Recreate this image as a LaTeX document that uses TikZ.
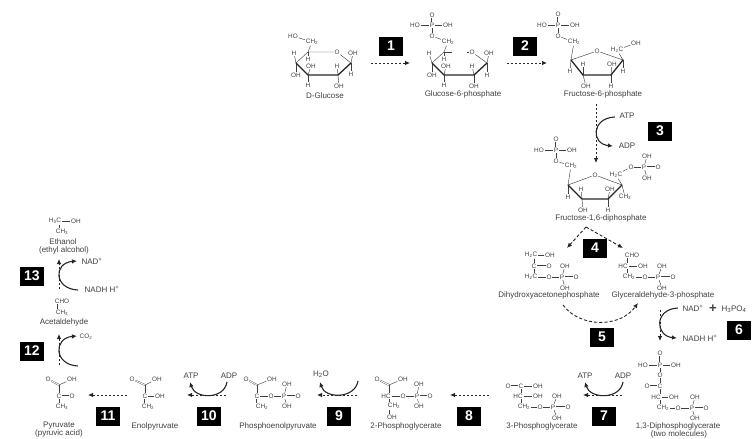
\documentclass[tikz,border=0pt]{standalone}
\usepackage{fontspec}
\setmainfont{Liberation Sans}
\usetikzlibrary{arrows.meta}
\definecolor{inkgray}{gray}{0.25}
\tikzset{
  atom/.style={text=inkgray,font=\fontsize{6.4pt}{7pt}\selectfont,inner sep=0.7pt},
  caption/.style={text=inkgray,font=\fontsize{8pt}{9pt}\selectfont,inner sep=0pt},
  cofac/.style={text=inkgray,font=\fontsize{8pt}{9pt}\selectfont,inner sep=0pt},
  stepbox/.style={fill=black,text=white,font=\fontsize{14pt}{14pt}\selectfont\bfseries,minimum width=24pt,minimum height=19pt,inner sep=0pt},
  bond/.style={inkgray,line width=0.45pt},
  dbond/.style={inkgray,line width=0.35pt,double,double distance=0.9pt},
  wedge/.style={black!85,line width=1.3pt,line cap=round},
  flow/.style={black!85,line width=0.8pt,dash pattern=on 2pt off 2pt,-{Latex[length=5pt,width=4.5pt]}},
  longflow/.style={black!85,line width=0.9pt,dash pattern=on 3.2pt off 2pt,-{Latex[length=5pt,width=4.5pt]}},
  turn/.style={black!85,line width=1.1pt,-{Latex[length=5pt,width=4.5pt]}}
}
\begin{document}
\begin{tikzpicture}[x=1pt,y=-1pt]
\useasboundingbox (0,0) rectangle (753,439);

% D-Glucose
\coordinate (ga1) at (351,63); \coordinate (ga2) at (338,75); \coordinate (ga3) at (308,75);
\coordinate (ga4) at (296,63); \coordinate (ga5) at (308,52);
\node[atom] (gaO) at (337,52) {O};
\node[atom] (gaHO) at (293,36) {HO};
\node[atom] (gaCH) at (312,42) {CH\textsubscript{2}};
\node[atom] (gaa) at (294,53) {H};
\node[atom] (gab) at (308,59) {H};
\node[atom] (gac) at (353,53) {OH};
\node[atom] (gad) at (351,74) {H};
\node[atom] (gae) at (311,66) {OH};
\node[atom] (gaf) at (337,66) {H};
\node[atom] (gag) at (296,75) {OH};
\node[atom] (gah) at (308,85) {H};
\node[atom] (gai) at (339,86) {OH};
\node[caption] (gacap) at (325,96) {D-Glucose};
\draw[bond] (gaHO) -- (gaCH);
\draw[bond] (gaCH) -- (ga5) -- (gaO) -- (ga1);
\draw[bond] (ga5) -- (ga4);
\draw[bond] (ga5) -- (gab);
\draw[bond] (ga4) -- (gaa); \draw[bond] (ga4) -- (gag);
\draw[bond] (ga3) -- (gae); \draw[bond] (ga3) -- (gah);
\draw[bond] (ga2) -- (gaf); \draw[bond] (ga2) -- (gai);
\draw[bond] (ga1) -- (gac); \draw[bond] (ga1) -- (gad);
\draw[wedge] (ga4) -- (ga3) -- (ga2) -- (ga1);

% Glucose-6-phosphate
\coordinate (gp1) at (487,63); \coordinate (gp2) at (474,75); \coordinate (gp3) at (444,75);
\coordinate (gp4) at (432,63); \coordinate (gp5) at (444,52); \coordinate (gpgap) at (452,52);
\coordinate (gpgab) at (467,52);
\node[atom] (gpO) at (472,52) {O};
\node[atom] (gpP) at (432,25) {P};
\node[atom] (gpPO) at (432,15) {O};
\node[atom] (gpHO) at (415,25) {HO};
\node[atom] (gpOH) at (448,25) {OH};
\node[atom] (gpOl) at (432,36) {O};
\node[atom] (gpCH) at (448,42) {CH\textsubscript{2}};
\node[atom] (gpa) at (429,53) {H};
\node[atom] (gpb) at (444,59) {H};
\node[atom] (gpc) at (489,53) {OH};
\node[atom] (gpd) at (487,75) {H};
\node[atom] (gpe) at (446,66) {OH};
\node[atom] (gpf) at (472,66) {H};
\node[atom] (gpg) at (432,75) {OH};
\node[atom] (gph) at (444,85) {H};
\node[atom] (gpi) at (474,86) {OH};
\node[caption] (gpcap) at (463,94) {Glucose-6-phosphate};
\draw[dbond] (gpP) -- (gpPO);
\draw[bond] (gpHO) -- (gpP); \draw[bond] (gpP) -- (gpOH); \draw[bond] (gpP) -- (gpOl);
\draw[bond] (gpOl) -- (gpCH); \draw[bond] (gpCH) -- (gp5);
\draw[bond] (gp5) -- (gpgap); \draw[bond] (gpgab) -- (gpO);
\draw[bond] (gpO) -- (gp1); \draw[bond] (gp5) -- (gp4); \draw[bond] (gp5) -- (gpb);
\draw[bond] (gp4) -- (gpa); \draw[bond] (gp4) -- (gpg);
\draw[bond] (gp3) -- (gpe); \draw[bond] (gp3) -- (gph);
\draw[bond] (gp2) -- (gpf); \draw[bond] (gp2) -- (gpi);
\draw[bond] (gp1) -- (gpc); \draw[bond] (gp1) -- (gpd);
\draw[wedge] (gp4) -- (gp3) -- (gp2) -- (gp1);

% Fructose-6-phosphate
\coordinate (fp1) at (571,60); \coordinate (fp2) at (583,75); \coordinate (fp3) at (611,75); \coordinate (fp4) at (623,60);
\node[atom] (fpO) at (597,51) {O};
\node[atom] (fpP) at (558,25) {P};
\node[atom] (fpPO) at (558,14) {O};
\node[atom] (fpHO) at (542,25) {HO};
\node[atom] (fpOH) at (575,25) {OH};
\node[atom] (fpOl) at (558,36) {O};
\node[atom] (fpCH) at (574,42) {CH\textsubscript{2}};
\node[atom] (fpHC) at (617,50) {H\textsubscript{2}C};
\node[atom] (fpHCo) at (636,43) {OH};
\node[atom] (fpa) at (570,71) {H};
\node[atom] (fpb) at (583,64) {H};
\node[atom] (fpc) at (612,64) {OH};
\node[atom] (fpd) at (623,71) {H};
\node[atom] (fpe) at (586,86) {OH};
\node[atom] (fpf) at (611,86) {H};
\node[caption] (fpcap) at (603,94) {Fructose-6-phosphate};
\draw[dbond] (fpP) -- (fpPO);
\draw[bond] (fpHO) -- (fpP); \draw[bond] (fpP) -- (fpOH); \draw[bond] (fpP) -- (fpOl);
\draw[bond] (fpOl) -- (fpCH); \draw[bond] (fpCH) -- (fp1);
\draw[bond] (fp1) -- (fpO); \draw[bond] (fpO) -- (fp4);
\draw[bond] (fp4) -- (fpHC); \draw[bond] (fpHC) -- (fpHCo);
\draw[bond] (fp1) -- (fpa); \draw[bond] (fp2) -- (fpb); \draw[bond] (fp3) -- (fpc); \draw[bond] (fp4) -- (fpd);
\draw[bond] (fp2) -- (fpe); \draw[bond] (fp3) -- (fpf);
\draw[wedge] (fp1) -- (fp2) -- (fp3) -- (fp4);

% Fructose-1,6-diphosphate
\coordinate (fd1) at (568,185); \coordinate (fd2) at (582,199); \coordinate (fd3) at (608,199); \coordinate (fd4) at (622,185);
\node[atom] (fdO) at (595,175) {O};
\node[atom] (fdP) at (556,150) {P};
\node[atom] (fdPO) at (556,139) {O};
\node[atom] (fdHO) at (539,150) {HO};
\node[atom] (fdOH) at (572,150) {OH};
\node[atom] (fdOl) at (556,161) {O};
\node[atom] (fdCH) at (571,166) {CH\textsubscript{2}};
\node[atom] (fdHC) at (616,175) {H\textsubscript{2}C};
\node[atom] (fdOr) at (631,167) {O};
\node[atom] (fdQ) at (644,167) {P};
\node[atom] (fdQO) at (658,167) {O};
\node[atom] (fdQa) at (647,156) {OH};
\node[atom] (fdQb) at (647,178) {OH};
\node[atom] (fda) at (568,197) {H};
\node[atom] (fdb) at (581,189) {H};
\node[atom] (fdc) at (610,189) {OH};
\node[atom] (fdd) at (625,197) {CH\textsubscript{3}};
\node[atom] (fde) at (583,210) {OH};
\node[atom] (fdf) at (608,210) {H};
\node[caption] (fdcap) at (601,218) {Fructose-1,6-diphosphate};
\draw[dbond] (fdP) -- (fdPO);
\draw[bond] (fdHO) -- (fdP); \draw[bond] (fdP) -- (fdOH); \draw[bond] (fdP) -- (fdOl);
\draw[bond] (fdOl) -- (fdCH); \draw[bond] (fdCH) -- (fd1);
\draw[bond] (fd1) -- (fdO); \draw[bond] (fdO) -- (fd4);
\draw[bond] (fd4) -- (fdHC); \draw[bond] (fdHC) -- (fdOr); \draw[bond] (fdOr) -- (fdQ);
\draw[dbond] (fdQ) -- (fdQO);
\draw[bond] (fdQ) -- (fdQa); \draw[bond] (fdQ) -- (fdQb);
\draw[bond] (fd1) -- (fda); \draw[bond] (fd2) -- (fdb); \draw[bond] (fd3) -- (fdc); \draw[bond] (fd4) -- (fdd);
\draw[bond] (fd2) -- (fde); \draw[bond] (fd3) -- (fdf);
\draw[wedge] (fd1) -- (fd2) -- (fd3) -- (fd4);

% Dihydroxyacetonephosphate
\node[atom] (dhC) at (531,255) {H\textsubscript{2}C};
\node[atom] (dhCo) at (550,255) {OH};
\node[atom] (dhD) at (534,266) {C};
\node[atom] (dhDo) at (549,266) {O};
\node[atom] (dhE) at (531,277) {H\textsubscript{2}C};
\node[atom] (dhEo) at (549,277) {O};
\node[atom] (dhP) at (562,277) {P};
\node[atom] (dhPo) at (576,277) {O};
\node[atom] (dhPa) at (565,266) {OH};
\node[atom] (dhPb) at (565,288) {OH};
\node[caption] (dhcap) at (549,295) {Dihydroxyacetonephosphate};
\draw[bond] (dhC) -- (dhCo); \draw[bond] ([xshift=3pt]dhC.south) -- (dhD); \draw[bond] (dhD) -- ([xshift=3pt]dhE.north);
\draw[dbond] (dhD) -- (dhDo);
\draw[bond] (dhE) -- (dhEo); \draw[bond] (dhEo) -- (dhP);
\draw[dbond] (dhP) -- (dhPo);
\draw[bond] (dhP) -- (dhPa); \draw[bond] (dhP) -- (dhPb);

% Glyceraldehyde-3-phosphate
\node[atom] (glC) at (632,255) {CHO};
\node[atom] (glD) at (623,266) {HC};
\node[atom] (glDo) at (643,266) {OH};
\node[atom] (glE) at (629,277) {CH\textsubscript{2}};
\node[atom] (glEo) at (645,277) {O};
\node[atom] (glP) at (658,277) {P};
\node[atom] (glPo) at (673,277) {O};
\node[atom] (glPa) at (662,266) {OH};
\node[atom] (glPb) at (662,288) {OH};
\node[caption] (glcap) at (663,295) {Glyceraldehyde-3-phosphate};
\draw[bond] ([xshift=-5pt]glC.south) -- ([xshift=4pt]glD.north); \draw[bond] ([xshift=4pt]glD.south) -- ([xshift=-2pt]glE.north);
\draw[bond] (glD) -- (glDo);
\draw[bond] (glE) -- (glEo); \draw[bond] (glEo) -- (glP);
\draw[dbond] (glP) -- (glPo);
\draw[bond] (glP) -- (glPa); \draw[bond] (glP) -- (glPb);

% 1,3-Diphosphoglycerate
\node[atom] (dpQO) at (660,353) {O};
\node[atom] (dpHO) at (643,365) {HO};
\node[atom] (dpQ) at (660,365) {P};
\node[atom] (dpQa) at (676,365) {OH};
\node[atom] (dpOt) at (660,375) {O};
\node[atom] (dpOd) at (647,386) {O};
\node[atom] (dpC) at (660,386) {C};
\node[atom] (dpD) at (656,397) {HC};
\node[atom] (dpDo) at (674,397) {OH};
\node[atom] (dpE) at (663,408) {CH\textsubscript{2}};
\node[atom] (dpEo) at (678,408) {O};
\node[atom] (dpP) at (692,408) {P};
\node[atom] (dpPo) at (706,408) {O};
\node[atom] (dpPa) at (695,397) {OH};
\node[atom] (dpPb) at (695,418) {OH};
\node[caption] (dpcap) at (678,426) {1,3-Diphosphoglycerate};
\node[caption] (dpcapb) at (679,434) {(two molecules)};
\draw[dbond] (dpQ) -- (dpQO);
\draw[bond] (dpHO) -- (dpQ); \draw[bond] (dpQ) -- (dpQa); \draw[bond] (dpQ) -- (dpOt); \draw[bond] (dpOt) -- (dpC);
\draw[dbond] (dpOd) -- (dpC);
\draw[bond] (dpC) -- ([xshift=4pt]dpD.north); \draw[bond] (dpD) -- (dpDo); \draw[bond] ([xshift=4pt]dpD.south) -- ([xshift=-3pt]dpE.north);
\draw[bond] (dpE) -- (dpEo); \draw[bond] (dpEo) -- (dpP);
\draw[dbond] (dpP) -- (dpPo);
\draw[bond] (dpP) -- (dpPa); \draw[bond] (dpP) -- (dpPb);

% 3-Phosphoglycerate
\node[atom] (tgOd) at (508,386) {O};
\node[atom] (tgC) at (521,386) {C};
\node[atom] (tgCo) at (538,386) {OH};
\node[atom] (tgD) at (518,396) {HC};
\node[atom] (tgDo) at (538,396) {OH};
\node[atom] (tgE) at (524,407) {CH\textsubscript{2}};
\node[atom] (tgEo) at (540,407) {O};
\node[atom] (tgP) at (553,407) {P};
\node[atom] (tgPo) at (568,407) {O};
\node[atom] (tgPa) at (557,396) {OH};
\node[atom] (tgPb) at (557,418) {OH};
\node[caption] (tgcap) at (542,426) {3-Phosphoglycerate};
\draw[dbond] (tgOd) -- (tgC);
\draw[bond] (tgC) -- (tgCo); \draw[bond] (tgC) -- ([xshift=3pt]tgD.north); \draw[bond] (tgD) -- (tgDo); \draw[bond] ([xshift=3pt]tgD.south) -- ([xshift=-3pt]tgE.north);
\draw[bond] (tgE) -- (tgEo); \draw[bond] (tgEo) -- (tgP);
\draw[dbond] (tgP) -- (tgPo);
\draw[bond] (tgP) -- (tgPa); \draw[bond] (tgP) -- (tgPb);

% 2-Phosphoglycerate
\coordinate (spC) at (389,385);
\node[atom] (spOd) at (377,379) {O};
\node[atom] (spCo) at (403,379) {OH};
\node[atom] (spD) at (386,396) {HC};
\node[atom] (spDo) at (403,396) {O};
\node[atom] (spP) at (417,396) {P};
\node[atom] (spPo) at (430,396) {O};
\node[atom] (spPa) at (419,384) {OH};
\node[atom] (spPb) at (419,406) {OH};
\node[atom] (spE) at (394,406) {CH\textsubscript{2}};
\node[atom] (spEo) at (392,417) {OH};
\node[caption] (spcap) at (406,426) {2-Phosphoglycerate};
\draw[dbond] (spOd) -- (spC);
\draw[bond] (spC) -- (spCo); \draw[bond] (spC) -- ([xshift=3pt]spD.north); \draw[bond] (spD) -- (spDo); \draw[bond] (spDo) -- (spP);
\draw[dbond] (spP) -- (spPo);
\draw[bond] (spP) -- (spPa); \draw[bond] (spP) -- (spPb);
\draw[bond] ([xshift=3pt]spD.south) -- ([xshift=-5pt]spE.north); \draw[bond] ([xshift=-5pt]spE.south) -- ([xshift=-3pt]spEo.north);

% Phosphoenolpyruvate
\coordinate (peC) at (257,385);
\node[atom] (peOd) at (246,379) {O};
\node[atom] (peCo) at (272,379) {OH};
\node[atom] (peD) at (257,396) {C};
\node[atom] (peDo) at (271,396) {O};
\node[atom] (peP) at (284,396) {P};
\node[atom] (pePo) at (298,396) {O};
\node[atom] (pePa) at (287,384) {OH};
\node[atom] (pePb) at (287,406) {OH};
\node[atom] (peE) at (262,407) {CH\textsubscript{2}};
\node[caption] (pecap) at (278,426) {Phosphoenolpyruvate};
\draw[dbond] (peOd) -- (peC);
\draw[bond] (peC) -- (peCo); \draw[bond] (peC) -- (peD); \draw[bond] (peD) -- (peDo); \draw[bond] (peDo) -- (peP);
\draw[dbond] (peP) -- (pePo);
\draw[bond] (peP) -- (pePa); \draw[bond] (peP) -- (pePb);
\draw[dbond] (peD) -- ([xshift=-5pt]peE.north);

% Enolpyruvate
\coordinate (enC) at (145,385);
\node[atom] (enOd) at (132,379) {O};
\node[atom] (enCo) at (157,379) {OH};
\node[atom] (enD) at (145,396) {C};
\node[atom] (enDo) at (160,396) {OH};
\node[atom] (enE) at (148,407) {CH\textsubscript{2}};
\node[caption] (encap) at (155,426) {Enolpyruvate};
\draw[dbond] (enOd) -- (enC);
\draw[bond] (enC) -- (enCo); \draw[bond] (enC) -- (enD); \draw[bond] (enD) -- (enDo);
\draw[dbond] (enD) -- ([xshift=-3pt]enE.north);

% Pyruvate
\coordinate (pyC) at (59,385);
\node[atom] (pyOd) at (48,379) {O};
\node[atom] (pyCo) at (72,379) {OH};
\node[atom] (pyD) at (59,396) {C};
\node[atom] (pyDo) at (72,396) {O};
\node[atom] (pyE) at (62,407) {CH\textsubscript{3}};
\node[caption] (pycap) at (59,426) {Pyruvate};
\node[caption] (pycapb) at (59,433.5) {(pyruvic acid)};
\draw[dbond] (pyOd) -- (pyC);
\draw[bond] (pyC) -- (pyCo); \draw[bond] (pyC) -- (pyD);
\draw[dbond] (pyD) -- (pyDo);
\draw[bond] (pyD) -- ([xshift=-3pt]pyE.north);

% Acetaldehyde
\node[atom] (acC) at (62,301) {CHO};
\node[atom] (acD) at (62,313) {CH\textsubscript{3}};
\node[caption] (accap) at (64,322) {Acetaldehyde};
\draw[bond] ([xshift=-5pt]acC.south) -- ([xshift=-5pt]acD.north);

% Ethanol
\node[atom] (etC) at (55,221) {H\textsubscript{3}C};
\node[atom] (etCo) at (76,221) {OH};
\node[atom] (etD) at (62,232) {CH\textsubscript{3}};
\node[caption] (etcap) at (63,242) {Ethanol};
\node[caption] (etcapb) at (64,250) {(ethyl alcohol)};
\draw[bond] (etC) -- (etCo); \draw[bond] ([xshift=4pt]etC.south) -- ([xshift=-3pt]etD.north);

% step numbers
\node[stepbox] (st1) at (391,46) {1};
\node[stepbox] (st2) at (525,46) {2};
\node[stepbox] (st3) at (660,131) {3};
\node[stepbox] (st4) at (595,248) {4};
\node[stepbox] (st5) at (602,337) {5};
\node[stepbox] (st6) at (739,330) {6};
\node[stepbox] (st7) at (604,416) {7};
\node[stepbox] (st8) at (469,416) {8};
\node[stepbox] (st9) at (339,416) {9};
\node[stepbox] (st10) at (209,416) {10};
\node[stepbox] (st11) at (108,416) {11};
\node[stepbox] (st12) at (32,351) {12};
\node[stepbox] (st13) at (32,276) {13};

% cofactor labels
\node[cofac] (atpc) at (627,116) {ATP};
\node[cofac] (adpc) at (627,146) {ADP};
\node[cofac] (nadf) at (693,308) {NAD\textsuperscript{+}};
\node[cofac,font=\fontsize{13pt}{13pt}\selectfont\bfseries] (plusf) at (713,309) {+};
\node[cofac] (hpof) at (734,309) {H\textsubscript{3}PO\textsubscript{4}};
\node[cofac] (nadhf) at (700,338) {NADH H\textsuperscript{+}};
\node[cofac] (atpg) at (585,376) {ATP};
\node[cofac] (adpg) at (623,376) {ADP};
\node[cofac] (water) at (321,374) {H\textsubscript{2}O};
\node[cofac] (atpj) at (191,376) {ATP};
\node[cofac] (adpj) at (229,376) {ADP};
\node[atom] (cotwo) at (86,337) {CO\textsubscript{2}};
\node[cofac] (nadm) at (92,261) {NAD\textsuperscript{+}};
\node[cofac] (nadhm) at (102,289) {NADH H\textsuperscript{+}};

% main dashed arrows
\coordinate (fa1) at (371,63); \coordinate (fb1) at (410,63);
\coordinate (fa2) at (507,63); \coordinate (fb2) at (547,63);
\coordinate (fa3) at (596,104); \coordinate (fb3) at (596,163);
\coordinate (fa4) at (586,227); \coordinate (fb4) at (567,248); \coordinate (fc4) at (623,248);
\coordinate (fa5) at (563,305); \coordinate (fb5) at (638,303);
\coordinate (fa6) at (660,310); \coordinate (fb6) at (660,341);
\coordinate (fa7) at (622,395); \coordinate (fb7) at (583,395);
\coordinate (fa8) at (489,395); \coordinate (fb8) at (450,395);
\coordinate (fa9) at (357,395); \coordinate (fb9) at (317,395);
\coordinate (fa10) at (226,395); \coordinate (fb10) at (187,395);
\coordinate (fa11) at (127,395); \coordinate (fb11) at (88,395);
\coordinate (fa12) at (59,365); \coordinate (fb12) at (59,334);
\coordinate (fa13) at (59,289); \coordinate (fb13) at (59,259);
\foreach \n in {1,2,3,6,7,8,9,10,11,12,13}
  \draw[flow] (fa\n) -- (fb\n);
\draw[longflow] (fa4) -- (fb4);
\draw[longflow] (fa4) -- (fc4);
\draw[longflow] (fa5) .. controls (580,328) and (620,328) .. (fb5);

% curved side arrows
\coordinate (ta3) at (615,117); \coordinate (tb3) at (613,146);
\coordinate (ta6) at (678,308); \coordinate (tb6) at (677,338);
\coordinate (ta7) at (623,382); \coordinate (tb7) at (585,382);
\coordinate (ta9) at (358,381); \coordinate (tb9) at (320,382);
\coordinate (ta10) at (227,382); \coordinate (tb10) at (190,382);
\coordinate (ta12) at (78,366); \coordinate (tb12) at (77,336);
\coordinate (ta13) at (78,290); \coordinate (tb13) at (77,261);
\draw[turn] (ta3) .. controls +(-24,1) and +(-22,-2) .. (tb3);
\draw[turn] (ta6) .. controls +(-24,1) and +(-22,-2) .. (tb6);
\draw[turn] (ta12) .. controls +(-24,-1) and +(-24,2) .. (tb12);
\draw[turn] (ta13) .. controls +(-24,-1) and +(-24,2) .. (tb13);
\draw[turn] (ta7) .. controls +(-3,18) and +(5,17) .. (tb7);
\draw[turn] (ta9) .. controls +(-3,18) and +(5,17) .. (tb9);
\draw[turn] (ta10) .. controls +(-3,18) and +(5,17) .. (tb10);

\end{tikzpicture}
\end{document}
